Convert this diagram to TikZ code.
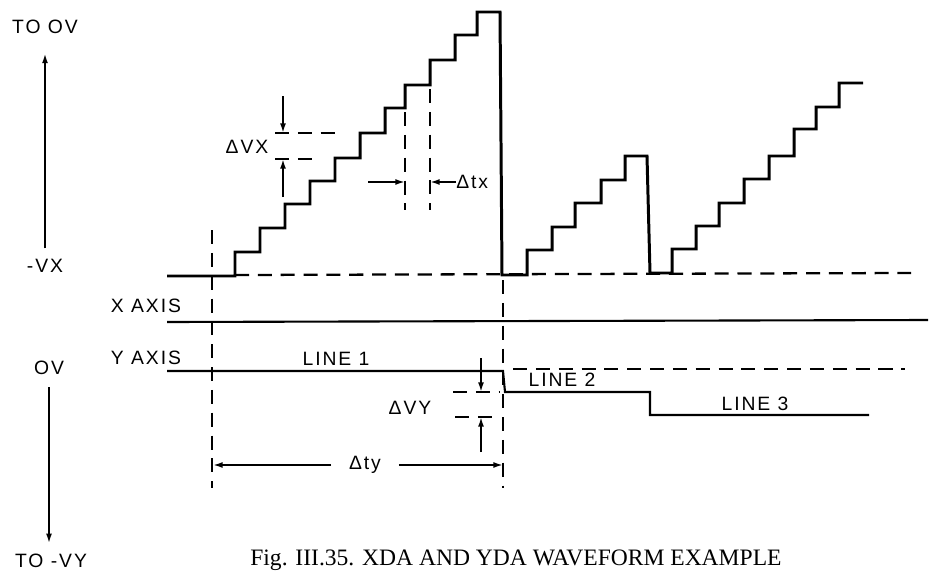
\documentclass[tikz,border=0pt]{standalone}
\usepackage{fontspec}
\setmainfont{Liberation Serif}
\newfontfamily\labelfont{Liberation Sans}[LetterSpace=10]
\usepackage{tikz}
\usetikzlibrary{arrows.meta}
\tikzset{
  wave/.style={line width=1.7pt, line join=miter},
  axisline/.style={line width=1.2pt},
  guide/.style={line width=1.3pt, dash pattern=on 8pt off 5pt},
  dimarrow/.style={line width=1pt, -{Latex[length=5.5pt,width=3.4pt]}},
  lbl/.style={inner sep=0pt}
}

\begin{document}
\begin{tikzpicture}[x=0.02cm, y=-0.02cm, font=\fontsize{11}{13}\labelfont]
  \useasboundingbox (0,0) rectangle (942,571);
  \node[lbl] (toov) at (45,27) {TO OV};
  \node[lbl] (vx) at (45,266) {-VX};
  \node[lbl] (ov) at (49,368) {OV};
  \node[lbl] (tovy) at (51,561) {TO -VY};
  \node[lbl] (xaxis) at (146,306) {X AXIS};
  \node[lbl] (yaxis) at (146,358) {Y AXIS};
  \node[lbl] (line1) at (336,359) {LINE 1};
  \node[lbl] (line2) at (562,380) {LINE 2};
  \node[lbl] (line3) at (755,404) {LINE 3};
  \node[lbl] (dvx) at (247,147) {ΔVX};
  \node[lbl, anchor=west] (dtx) at (456,182) {Δtx};
  \node[lbl] (dvy) at (410,408) {ΔVY};
  \node[lbl, inner xsep=10pt] (dty) at (365,465) {Δty};
  \node[anchor=base west, inner sep=0pt, font=\rmfamily\fontsize{13.4}{16}\selectfont] (caption) at (250,565) {Fig. III.35. XDA AND YDA WAVEFORM EXAMPLE};

  \draw[dimarrow, shorten <=6pt, shorten >=11pt] (vx.north) -- (vx.north |- toov.south);
  \draw[dimarrow, shorten <=7pt, shorten >=6pt] (ov.south) -- (ov.south |- tovy.north);

  \draw[guide] (235,275) -- (911,273);
  \draw[guide] (212,230) -- (212,488);
  \draw[guide] (503,280) -- (503,488);
  \draw[guide] (405,112) -- (405,210);
  \draw[guide] (430,89) -- (430,210);
  \draw[guide] (275,133) -- (343,133);
  \draw[guide] (275,159) -- (318,159);
  \draw[guide] (513,369) -- (905,369);
  \draw[guide] (453,392) -- (500,392);
  \draw[guide] (455,417) -- (495,417);

  \draw[wave] (167,276) -- (235,276) -- (235,252) -- (260,252) -- (260,228) -- (285,228)
    -- (285,204) -- (310,204) -- (310,181) -- (335,181) -- (335,158) -- (360,158)
    -- (360,133) -- (385,133) -- (385,108) -- (405,108) -- (405,85) -- (430,85)
    -- (430,60) -- (455,60) -- (455,35) -- (477,35) -- (477,12) -- (500,12)
    -- (502,275) -- (527,275) -- (527,250) -- (552,250) -- (552,227) -- (575,227)
    -- (575,203) -- (601,203) -- (601,180) -- (625,180) -- (625,156) -- (647,156)
    -- (650,273) -- (672,273) -- (672,249) -- (696,249) -- (696,226) -- (719,226)
    -- (719,203) -- (744,203) -- (744,179) -- (769,179) -- (769,156) -- (794,156)
    -- (794,129) -- (816,129) -- (816,107) -- (839,107) -- (839,83) -- (863,83);
  \draw[axisline] (167,322) -- (928,320);
  \draw[axisline] (167,371) -- (503,371) -- (505,392) -- (650,392) -- (650,415) -- (869,415);

  \coordinate (vxtop) at (283,96);
  \coordinate (vxhi) at (283,133);
  \coordinate (vxbot) at (283,197);
  \coordinate (vxlo) at (283,159);
  \draw[dimarrow] (vxtop) -- (vxhi);
  \draw[dimarrow] (vxbot) -- (vxlo);
  \coordinate (txtail) at (368,182);
  \coordinate (txleft) at (405,182);
  \coordinate (txright) at (430,182);
  \draw[dimarrow] (txtail) -- (txleft);
  \draw[dimarrow] (dtx.west) -- (txright);
  \coordinate (vytop) at (481,358);
  \coordinate (vyhi) at (481,392);
  \coordinate (vybot) at (481,452);
  \coordinate (vylo) at (481,417);
  \draw[dimarrow] (vytop) -- (vyhi);
  \draw[dimarrow] (vybot) -- (vylo);
  \coordinate (tyleft) at (213,465);
  \coordinate (tyright) at (503,465);
  \draw[dimarrow] (dty.west) -- (tyleft);
  \draw[dimarrow] (dty.east) -- (tyright);
\end{tikzpicture}
\end{document}
